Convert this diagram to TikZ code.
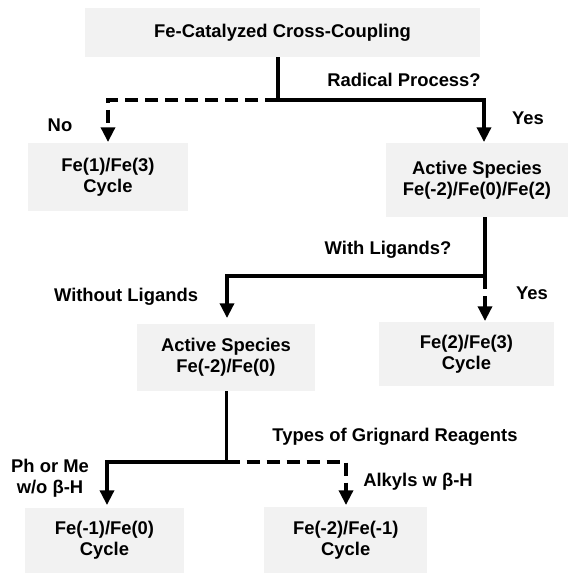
\documentclass[tikz,border=0pt]{standalone}
\usepackage{fontspec}
\setmainfont{Liberation Sans}
\usetikzlibrary{arrows.meta}
\definecolor{boxgray}{RGB}{242,242,242}
\begin{document}
\begin{tikzpicture}[x=0.75pt,y=-0.75pt,
  every node/.style={font=\fontsize{13.8pt}{16pt}\selectfont\bfseries},
  box/.style={fill=boxgray, draw=none, align=center, inner sep=0pt},
  lbl/.style={inner sep=0pt, text height=9.9pt, text depth=0pt, align=center},
  conn/.style={line width=2.5pt, -{Triangle[width=10.5pt,length=11pt]}},
  dashline/.style={dash pattern=on 9.75pt off 5.25pt}
]
\useasboundingbox (0,0) rectangle (568,573);

% boxes
\node[box, minimum width=296.25pt, minimum height=36.75pt] (top) at (282.5,32.5) {Fe-Catalyzed Cross-Coupling};
\node[box, minimum width=120pt, minimum height=51pt] (b1) at (108,177) {Fe(1)/Fe(3)\\Cycle};
\node[box, minimum width=136.5pt, minimum height=55.5pt] (b2) at (477,180) {Active Species\\Fe(-2)/Fe(0)/Fe(2)};
\node[box, minimum width=133.5pt, minimum height=50.25pt] (b3) at (226,357.5) {Active Species\\Fe(-2)/Fe(0)};
\node[box, minimum width=131.25pt, minimum height=48pt] (b4) at (466.5,354) {Fe(2)/Fe(3)\\Cycle};
\node[box, minimum width=119.25pt, minimum height=48.75pt] (b5) at (104.5,540.5) {Fe(-1)/Fe(0)\\Cycle};
\node[box, minimum width=121.9pt, minimum height=49.5pt] (b6) at (345.75,540) {Fe(-2)/Fe(-1)\\Cycle};

% labels
\node[lbl] (lRad) at (404,80) {Radical Process?};
\node[lbl] (lNo) at (60,125) {No};
\node[lbl] (lYes1) at (528,118) {Yes};
\node[lbl] (lWith) at (388,248) {With Ligands?};
\node[lbl] (lWithout) at (126,295) {Without Ligands};
\node[lbl] (lYes2) at (532,293) {Yes};
\node[lbl] (lTypes) at (395,435) {Types of Grignard Reagents};
\node[inner sep=0pt, align=center] (lPh) at (50,478) {Ph or Me\\w/o β-H};
\node[lbl] (lAlk) at (418,480) {Alkyls w β-H};

% junctions and arrow ends
\coordinate (j1) at (278,100);
\coordinate (e1) at (108,142);
\coordinate (e2) at (484,142);
\coordinate (j2) at (485,276);
\coordinate (e3) at (227,318);
\coordinate (e4) at (485,321);
\coordinate (j3) at (226.5,462);
\coordinate (e5) at (107,505);
\coordinate (e6) at (346,505);

% connectors
\draw[conn] (top.south -| j1) -- (j1) -| (e2);
\draw[conn, dashline] (j1) -| (e1);
\draw[conn] (b2.south -| j2) -- (j2) -| (e3);
\draw[conn, dashline] (j2) -- (e4);
\draw[conn] (b3.south -| j3) -- (j3) -| (e5);
\draw[conn, dashline] (j3) -| (e6);
\end{tikzpicture}
\end{document}
